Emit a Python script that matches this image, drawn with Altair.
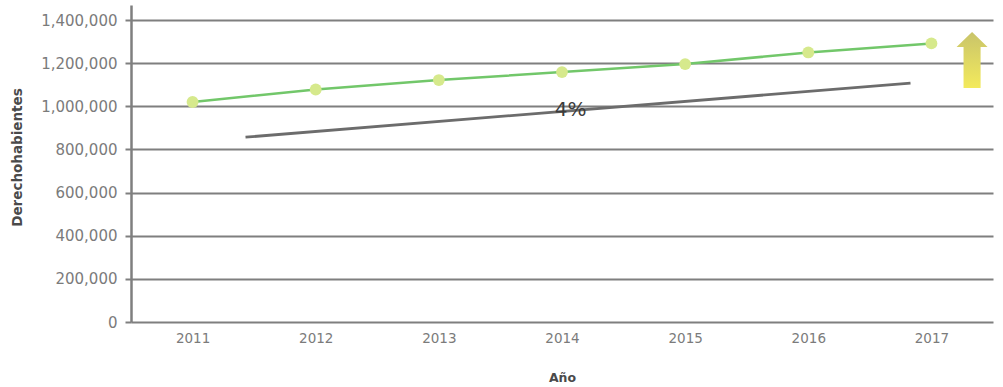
import altair as alt
import pandas as pd

# Beneficiaries per year
years = [2011, 2012, 2013, 2014, 2015, 2016, 2017]
beneficiaries = [1020000, 1078000, 1122000, 1159000, 1196000, 1250000, 1292000]

# Growth trend line (start / end)
trend_x = [2011.43, 2016.83]
trend_y = [857000, 1108000]

# Annotation
note_text = ["4%"]
note_x = [2014.07]
note_y = [983000]

# Growth arrow position
arrow_x = [2017.33]
arrow_y = [1215000]

y_ticks = [0, 200000, 400000, 600000, 800000, 1000000, 1200000, 1400000]

FONT = "DejaVu Sans"
LABEL = "#7b7b7b"
GRID = "#7f7f7f"

df = pd.DataFrame({"year": years, "value": beneficiaries})
trend_df = pd.DataFrame({"year": trend_x, "value": trend_y})
note_df = pd.DataFrame({"year": note_x, "value": note_y, "text": note_text})
arrow_df = pd.DataFrame({"year": arrow_x, "value": arrow_y})

x_scale = alt.Scale(domain=[2010.5, 2017.5], nice=False, zero=False)
y_scale = alt.Scale(domain=[0, 1470000], nice=False)

x_enc = alt.X(
    "year:Q",
    scale=x_scale,
    title="Año",
    axis=alt.Axis(
        values=years,
        format="d",
        grid=False,
        domain=False,
        ticks=False,
        labelFont=FONT,
        labelFontSize=13.5,
        labelColor=LABEL,
        labelPadding=9,
        titleFont=FONT,
        titleFontSize=12.5,
        titleFontWeight="bold",
        titleColor="#4a4a4a",
        titlePadding=27,
    ),
)
y_enc = alt.Y(
    "value:Q",
    scale=y_scale,
    title="Derechohabientes",
    axis=alt.Axis(
        values=y_ticks,
        format=",d",
        grid=True,
        gridColor=GRID,
        gridWidth=2.2,
        domain=True,
        domainColor=GRID,
        domainWidth=2.5,
        ticks=True,
        tickSize=6,
        tickColor=GRID,
        tickWidth=2,
        labelFont=FONT,
        labelFontSize=15,
        labelColor=LABEL,
        labelPadding=8,
        titleFont=FONT,
        titleFontSize=13.5,
        titleFontWeight="bold",
        titleColor="#4a4a4a",
        titlePadding=16,
        titleY=152,
    ),
)

trend = alt.Chart(trend_df).mark_line(color="#6c6c6c", strokeWidth=2.8).encode(
    x=alt.X("year:Q", scale=x_scale), y=alt.Y("value:Q", scale=y_scale)
)

line = alt.Chart(df).mark_line(color="#72c76a", strokeWidth=2.5).encode(x=x_enc, y=y_enc)

points = alt.Chart(df).mark_point(
    filled=True, size=140, color="#d6e98c", opacity=1
).encode(x=alt.X("year:Q", scale=x_scale), y=alt.Y("value:Q", scale=y_scale))

note = alt.Chart(note_df).mark_text(
    font=FONT, fontSize=20, color="#3c3c3c", align="center", baseline="middle"
).encode(x=alt.X("year:Q", scale=x_scale), y=alt.Y("value:Q", scale=y_scale), text="text:N")

arrow_path = "M0,-1.8 L1,-0.83 L0.55,-0.83 L0.55,1.8 L-0.55,1.8 L-0.55,-0.83 L-1,-0.83 Z"
arrow = alt.Chart(arrow_df).mark_point(
    shape=arrow_path,
    size=961,
    filled=True,
    opacity=1,
    strokeWidth=0,
    color=alt.Gradient(
        gradient="linear",
        x1=0, y1=0, x2=0, y2=1,
        stops=[
            alt.GradientStop(color="#c9c46a", offset=0),
            alt.GradientStop(color="#f3ea5c", offset=1),
        ],
    ),
).encode(x=alt.X("year:Q", scale=x_scale), y=alt.Y("value:Q", scale=y_scale))

chart = (
    alt.layer(line, trend, points, note, arrow)
    .properties(
        width=862,
        height=317,
        autosize=alt.AutoSizeParams(type="none"),
        padding={"left": 131, "top": 5, "right": 10, "bottom": 65},
        background="white",
    )
    .configure_view(stroke=None)
)

chart.save("out.html", embed_options={"renderer": "svg", "actions": False})
